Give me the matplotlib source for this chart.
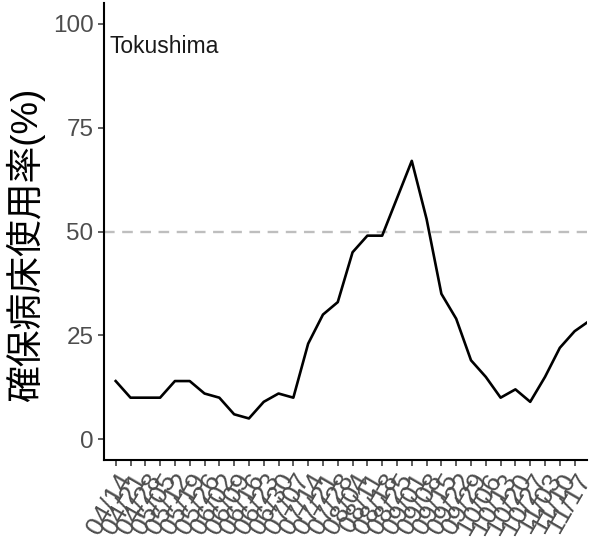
import matplotlib
matplotlib.use("Agg")
import matplotlib.pyplot as plt

# ---- data ----
tick_labels = ["04/14", "04/21", "04/28", "05/05", "05/12", "05/19", "05/26",
               "06/02", "06/09", "06/16", "06/23", "06/30", "07/07", "07/14",
               "07/21", "07/28", "08/04", "08/11", "08/18", "08/25", "09/01",
               "09/08", "09/15", "09/22", "09/29", "10/06", "10/13", "10/20",
               "10/27", "11/03", "11/10", "11/17"]
occupancy = [14, 10, 10, 10, 14, 14, 11, 10, 6, 5, 9, 11, 10, 23, 30, 33,
             45, 49, 49, 58, 67, 53, 35, 29, 19, 15, 10, 12, 9, 15, 22, 26, 28.5]
threshold = 50
region = "Tokushima"
ylabel = "確保病床使用率(%)"
yticks = [0, 25, 50, 75, 100]

plt.rcParams['font.family'] = ['Liberation Sans', 'Noto Sans CJK JP', 'DejaVu Sans']

fig = plt.figure(figsize=(5.96, 5.48), dpi=100)
ax = fig.add_axes([0.1745, 0.1606, 0.985 - 0.1745, 0.9945 - 0.1606])

x = list(range(len(occupancy)))
ax.axhline(threshold, color="#BEBEBE", lw=1.7, ls=(0, (4.5, 3.2)), zorder=1)
ax.plot(x, occupancy, color="black", lw=1.9, zorder=2)

ax.set_xlim(-0.79, 31.84)
ax.set_ylim(-5, 105)
ax.set_yticks(yticks)
ax.set_xticks(range(len(tick_labels)))
ax.set_xticklabels(tick_labels, rotation=60, ha="right", va="top",
                   rotation_mode="anchor", fontsize=19, color="#4D4D4D")
ax.tick_params(axis="y", labelsize=17.5, labelcolor="#4D4D4D", pad=3)
ax.tick_params(axis="both", length=4.5, width=1.1, color="#333333")
ax.tick_params(axis="x", pad=2)

for s in ["top", "right"]:
    ax.spines[s].set_visible(False)
for s in ["left", "bottom"]:
    ax.spines[s].set_linewidth(1.5)
    ax.spines[s].set_color("black")

ax.set_ylabel(ylabel, fontsize=26.5, color="black")
ax.yaxis.set_label_coords(-0.122, 0.47)
ax.text(-0.4, 94.5, region, ha="left", va="center", fontsize=16.5, color="#1A1A1A")

fig.savefig("out.png", dpi=100)
